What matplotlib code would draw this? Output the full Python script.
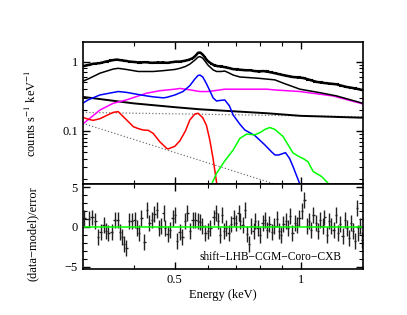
import numpy as np
import matplotlib
matplotlib.use("Agg")
import matplotlib.pyplot as plt
from matplotlib.ticker import FixedLocator, NullFormatter, LogLocator

plt.rcParams['font.family'] = ['Liberation Serif', 'DejaVu Serif']
plt.rcParams['mathtext.fontset'] = 'stix'

# ---- data ----
data_E = [0.302, 0.310, 0.319, 0.331, 0.342, 0.356, 0.363, 0.370, 0.383, 0.390, 0.398, 0.412,
          0.425, 0.441, 0.455, 0.469, 0.480, 0.492, 0.503, 0.514, 0.525, 0.537, 0.548, 0.555,
          0.562, 0.568, 0.575, 0.583, 0.590, 0.596, 0.604, 0.612, 0.622, 0.633, 0.645, 0.658,
          0.672, 0.688, 0.705, 0.721, 0.738, 0.756, 0.776, 0.796, 0.812, 0.828, 0.847, 0.867,
          0.886, 0.906, 0.930, 0.957, 0.985, 1.013, 1.045, 1.090, 1.115, 1.141, 1.180, 1.217,
          1.250, 1.288, 1.320, 1.346, 1.375, 1.399]
data_F = [0.86, 0.89, 0.93, 0.95, 1.00, 1.05, 1.07, 1.05, 1.02, 1.00, 0.99, 0.97,
          0.98, 0.96, 0.97, 0.97, 0.96, 0.98, 1.00, 1.00, 1.02, 1.05, 1.10, 1.15,
          1.24, 1.34, 1.35, 1.26, 1.15, 1.05, 0.98, 0.93, 0.88, 0.86, 0.85, 0.83,
          0.81, 0.78, 0.77, 0.76, 0.75, 0.75, 0.73, 0.72, 0.73, 0.72, 0.70, 0.68,
          0.66, 0.64, 0.62, 0.60, 0.59, 0.58, 0.55, 0.51, 0.50, 0.49, 0.48, 0.47,
          0.45, 0.43, 0.42, 0.41, 0.40, 0.39]

model_E = [0.301, 0.310, 0.331, 0.356, 0.366, 0.383, 0.409, 0.444, 0.469, 0.500, 0.514, 0.530,
           0.543, 0.558, 0.568, 0.574, 0.583, 0.600, 0.617, 0.629, 0.645, 0.658, 0.672, 0.689,
           0.715, 0.791, 0.867, 0.907, 0.995, 1.100, 1.217, 1.408]
model_F = [0.52, 0.56, 0.68, 0.78, 0.80, 0.77, 0.72, 0.72, 0.74, 0.77, 0.80, 0.85,
           0.92, 1.05, 1.16, 1.18, 1.12, 0.89, 0.76, 0.72, 0.72, 0.73, 0.69, 0.64,
           0.60, 0.575, 0.545, 0.49, 0.40, 0.36, 0.32, 0.25]

cgm_E = [0.301, 0.310, 0.331, 0.366, 0.383, 0.409, 0.428, 0.444, 0.469, 0.478, 0.500, 0.523,
         0.543, 0.558, 0.568, 0.574, 0.583, 0.595, 0.606, 0.617, 0.629, 0.640, 0.658, 0.675,
         0.689, 0.715, 0.735, 0.776, 0.820, 0.851, 0.867, 0.885, 0.919, 0.940, 0.958, 0.995]
cgm_F = [0.25, 0.28, 0.33, 0.37, 0.36, 0.335, 0.32, 0.31, 0.30, 0.305, 0.33, 0.37,
         0.45, 0.56, 0.63, 0.64, 0.60, 0.48, 0.38, 0.30, 0.27, 0.275, 0.28, 0.23,
         0.17, 0.125, 0.103, 0.086, 0.063, 0.050, 0.045, 0.045, 0.0486, 0.040, 0.0306, 0.017]

coro_E = [0.301, 0.331, 0.356, 0.383, 0.428, 0.460, 0.500, 0.514, 0.545, 0.574, 0.600, 0.630,
          0.658, 0.689, 0.828, 0.867, 0.995, 1.192, 1.408]
coro_F = [0.125, 0.20, 0.25, 0.28, 0.35, 0.38, 0.40, 0.41, 0.39, 0.37, 0.37, 0.385,
          0.40, 0.40, 0.40, 0.39, 0.37, 0.32, 0.245]

lhb_E = [0.301, 0.310, 0.319, 0.331, 0.342, 0.356, 0.366, 0.383, 0.398, 0.409, 0.420, 0.432,
         0.444, 0.460, 0.478, 0.482, 0.500, 0.514, 0.530, 0.543, 0.558, 0.568, 0.583, 0.595,
         0.606, 0.617, 0.629, 0.640]
lhb_F = [0.157, 0.148, 0.142, 0.150, 0.165, 0.185, 0.19, 0.145, 0.115, 0.108, 0.103, 0.102,
         0.092, 0.070, 0.056, 0.055, 0.060, 0.072, 0.10, 0.144, 0.175, 0.18, 0.155, 0.12,
         0.074, 0.040, 0.018, 0.010]

shift_E = [0.600, 0.612, 0.629, 0.658, 0.689, 0.715, 0.742, 0.776, 0.800, 0.820, 0.843, 0.867,
           0.907, 0.958, 0.995, 1.013, 1.040, 1.070, 1.121, 1.162, 1.200]
shift_F = [0.012, 0.017, 0.0245, 0.037, 0.053, 0.078, 0.090, 0.088, 0.095, 0.105, 0.112, 0.105,
           0.083, 0.048, 0.042, 0.040, 0.036, 0.026, 0.022, 0.0176, 0.014]

cxb_tot_E = [0.301, 0.398, 0.500, 0.574, 0.828, 1.000, 1.408]
cxb_tot_F = [0.31, 0.25, 0.22, 0.205, 0.18, 0.165, 0.155]

pl1_E = [0.301, 1.408]
pl1_F = [0.185, 0.16]
pl2_E = [0.301, 1.0]
pl2_F = [0.129, 0.013]

res_E = [0.304, 0.311, 0.317, 0.323, 0.327, 0.333, 0.338, 0.342, 0.347, 0.354, 0.359, 0.365,
         0.370, 0.374, 0.378, 0.383, 0.388, 0.395, 0.401, 0.406, 0.411, 0.416, 0.422, 0.429,
         0.434, 0.441, 0.447, 0.453, 0.459, 0.464, 0.470, 0.474, 0.481, 0.487, 0.494, 0.501,
         0.507, 0.513, 0.520, 0.529, 0.536, 0.544, 0.551, 0.559, 0.568, 0.575, 0.582, 0.591,
         0.600, 0.607, 0.619, 0.627, 0.634, 0.641, 0.648,
         0.654, 0.662, 0.672, 0.682, 0.691, 0.699, 0.710, 0.716, 0.726, 0.734, 0.743, 0.750,
         0.761, 0.771, 0.778, 0.789, 0.799, 0.810, 0.819, 0.829, 0.840, 0.853, 0.865, 0.876,
         0.888, 0.897, 0.909, 0.921, 0.931, 0.943, 0.955, 0.966, 0.978, 0.991, 1.006, 1.020,
         1.034, 1.047, 1.058, 1.072, 1.086, 1.098, 1.112, 1.127, 1.139, 1.154, 1.168, 1.181,
         1.197, 1.212, 1.226, 1.241, 1.258, 1.272, 1.288, 1.304, 1.319, 1.336, 1.348, 1.361,
         1.373, 1.386, 1.399]
res_V = [1.12, 1.04, 1.20, 0.79, -1.30, -0.63, 0.20, -0.46, -0.75, -0.63, 0.91, 0.91,
         -0.63, -1.30, -2.13, -2.63, 0.70, 0.79, 0.91, -0.13, -0.75, 1.12, -1.88, 2.16,
         0.50, 0.91, 1.62, 2.16, -0.13, 0.08, 1.75, -0.13, -0.88, -0.34, 1.12, 1.54,
         -1.71, -0.63, -1.30, 0.70, 1.75, -0.46, 0.91, 0.91, 0.70, 0.62, 0.08, -0.75,
         -0.54, -0.13, 1.20, 1.75, 0.70, -0.96, 1.54,
         -0.46, -0.13, -0.75, 0.37, 1.12, 0.50, 1.75, 0.70, 0.29, 2.16, -0.88, -2.13,
         0.08, -0.54, 0.70, -0.13, -0.96, 0.50, 0.91, -0.34, 0.37, -0.63, 0.08, 1.04,
         -0.54, -1.05, 0.37, 0.70, -0.13, 1.33, -0.75, 0.50, 0.29, 1.12, 2.04, 3.41,
         0.08, 0.70, -0.34, 1.54, 0.50, -0.54, 0.91, 0.08, 1.20, -0.96, 0.70, 0.08,
         -0.34, 1.54, -0.75, 0.37, -1.17, 0.91, -0.13, -1.38, 0.50, -0.54, -1.80, 2.37,
         -0.75, 0.08, -1.59]

label_text = "shift\u2212LHB\u2212CGM\u2212Coro\u2212CXB"


def half_widths(E):
    E = np.asarray(E)
    edges = np.sqrt(E[1:] * E[:-1])
    lo = np.concatenate([[E[0] - (edges[0] - E[0])], edges])
    hi = np.concatenate([edges, [E[-1] + (E[-1] - edges[-1])]])
    return np.vstack([E - lo, hi - E])


fig = plt.figure(figsize=(4.07, 3.15), dpi=100)
ax1 = fig.add_axes([0.203, 0.415, 0.688, 0.453])
ax2 = fig.add_axes([0.203, 0.145, 0.688, 0.270], sharex=ax1)

lw = 1.1
ax1.plot(pl1_E, pl1_F, ls=':', color='#777777', lw=0.9)
ax1.plot(pl2_E, pl2_F, ls=':', color='#777777', lw=0.9)
ax1.plot(cxb_tot_E, cxb_tot_F, color='black', lw=1.4)
ax1.plot(coro_E, coro_F, color='magenta', lw=lw)
ax1.plot(cgm_E, cgm_F, color='blue', lw=lw)
ax1.plot(lhb_E, lhb_F, color='red', lw=lw)
ax1.plot(shift_E, shift_F, color='#00ff00', lw=lw)
ax1.plot(model_E, model_F, color='black', lw=1.1)
dF = np.asarray(data_F) * 0.035
ax1.errorbar(data_E, data_F, yerr=dF, xerr=half_widths(data_E), fmt='none',
             ecolor='black', elinewidth=1.5)
ax1.plot(data_E, data_F, color='black', lw=1.8)

ax1.set_xscale('log')
ax1.set_yscale('log')
ax1.set_xlim(0.301, 1.405)
ax1.set_ylim(0.0170, 1.944)
ax1.set_ylabel(r'counts s$^{-1}$ keV$^{-1}$', fontsize=9, labelpad=8)
ax1.set_yticks([0.1, 1])
ax1.set_yticklabels(['0.1', '1'])
ax1.yaxis.set_minor_locator(LogLocator(base=10, subs=np.arange(2, 10)))
ax1.yaxis.set_minor_formatter(NullFormatter())

ax2.errorbar(res_E, res_V, yerr=1.0, xerr=half_widths(res_E), fmt='none',
             ecolor='#222222', elinewidth=1.0)
ax2.axhline(0, color='#00ff00', lw=1.1)
ax2.set_ylim(-5.33, 5.38)
ax2.set_yticks([-5, 0, 5])
ax2.set_yticklabels(['\u22125', '0', '5'])
ax2.yaxis.set_minor_locator(FixedLocator(np.arange(-5, 6)))
ax2.set_ylabel('(data\u2212model)/error', fontsize=9, labelpad=12)
ax2.yaxis.set_label_coords(-0.155, 0.42)
ax2.set_xlabel('Energy (keV)', fontsize=9, labelpad=2)
ax2.text(0.925, 0.15, label_text, transform=ax2.transAxes, ha='right', va='center',
         fontsize=8.3)

for ax in (ax1, ax2):
    ax.xaxis.set_major_locator(FixedLocator([0.5, 1.0]))
    ax.xaxis.set_minor_locator(FixedLocator([0.3, 0.4, 0.6, 0.7, 0.8, 0.9]))
    ax.xaxis.set_minor_formatter(NullFormatter())
    ax.tick_params(which='both', direction='in', top=True, right=True, labelsize=9)
    ax.tick_params(which='major', length=5, width=1.0)
    ax.tick_params(which='minor', length=3, width=0.8)
    for s in ax.spines.values():
        s.set_linewidth(1.2)

ax1.tick_params(labelbottom=False)
ax2.set_xticklabels(['0.5', '1'])
ax1.yaxis.set_label_coords(-0.155, 0.5)

fig.savefig('out.png', dpi=100)
